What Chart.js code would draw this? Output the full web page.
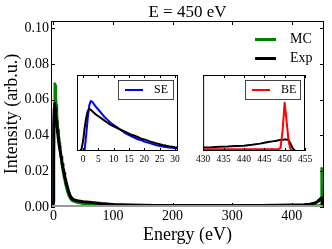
<!DOCTYPE html>
<html>
<head>
<meta charset="utf-8">
<script src="https://cdn.jsdelivr.net/npm/chart.js@4.4.1/dist/chart.umd.min.js"></script>
<style>
  html, body { margin: 0; padding: 0; background: #fff; }
  #wrap { position: relative; width: 332px; height: 249px; }
  canvas { position: absolute; }
</style>
</head>
<body>
<div id="wrap">
  <canvas id="main" width="332" height="249" style="left:0;top:0"></canvas>
  <canvas id="se" width="124" height="95" style="left:66px;top:70px"></canvas>
  <canvas id="be" width="124" height="95" style="left:193px;top:70px"></canvas>
</div>
<script>
// low energy part (secondary electrons)
const lowE   = [-2, -1, -0.5, 0, 0.5, 1, 1.5, 2, 2.5, 3, 4, 5, 6, 7, 8, 9, 10, 11, 12, 13, 14, 15, 16, 17, 18, 19, 20, 22, 24, 26, 28, 30, 31];
const lowMC  = [0, 0, 0, 0, 0.002, 0.022, 0.045, 0.063, 0.069, 0.068, 0.062, 0.057, 0.052, 0.047, 0.043, 0.039, 0.036, 0.033, 0.030, 0.027, 0.024, 0.022, 0.020, 0.018, 0.016, 0.015, 0.013, 0.0105, 0.008, 0.0062, 0.0049, 0.004, 0.0036];
const lowExp = [0, 0, 0.003, 0.014, 0.032, 0.046, 0.055, 0.058, 0.057, 0.055, 0.051, 0.048, 0.045, 0.042, 0.039, 0.036, 0.034, 0.032, 0.030, 0.028, 0.026, 0.024, 0.022, 0.021, 0.019, 0.017, 0.016, 0.013, 0.0105, 0.0082, 0.0065, 0.0052, 0.0047];

// middle part
const midE   = [35, 40, 50, 60, 80, 100, 130, 170, 200, 250, 300, 350, 400, 420];
const midMC  = [0.003, 0.0025, 0.0018, 0.0014, 0.001, 0.0008, 0.0006, 0.0005, 0.0005, 0.0005, 0.0005, 0.0005, 0.0005, 0.0005];
const midExp = [0.004, 0.0035, 0.003, 0.0026, 0.0019, 0.0014, 0.0011, 0.0009, 0.0008, 0.0008, 0.0008, 0.0009, 0.0011, 0.0013];

// high energy part (backscattered electrons)
const highE   = [430, 432, 434, 436, 438, 440, 442, 444, 445, 446, 447, 448, 448.5, 449, 449.5, 450, 450.5, 451, 451.5, 452, 452.5, 453, 455];
const highMC  = [0.0008, 0.0008, 0.0008, 0.0008, 0.0008, 0.0008, 0.0008, 0.0008, 0.0008, 0.0008, 0.0008, 0.0008, 0.0008, 0.0015, 0.009, 0.0216, 0.013, 0.004, 0.0006, 0, 0, 0, 0];
const highExp = [0.0016, 0.0017, 0.0019, 0.002, 0.0022, 0.0024, 0.0028, 0.0033, 0.0037, 0.004, 0.0043, 0.0046, 0.0048, 0.0049, 0.005, 0.0051, 0.0052, 0.0048, 0.003, 0.0012, 0.0002, 0, 0];

const mainXTicks = [0, 100, 200, 300, 400];
const mainYTicks = [0, 0.02, 0.04, 0.06, 0.08, 0.10];
const seXTicks = [0, 5, 10, 15, 20, 25, 30];
const beXTicks = [430, 435, 440, 445, 450, 455];

const FONT = "'Liberation Serif', 'Times New Roman', serif";

function pts(xs, ys) {
  return xs.map((x, i) => ({ x: x, y: ys[i] }));
}

// frame + inward tick marks like matplotlib
const boxPlugin = {
  id: 'box',
  beforeDraw(chart, args, o) {
    if (!o.fill) return;
    const a = chart.chartArea;
    chart.ctx.save();
    chart.ctx.fillStyle = '#fff';
    chart.ctx.fillRect(a.left, a.top, a.width, a.height);
    chart.ctx.restore();
  },
  afterDraw(chart, args, o) {
    const { ctx, chartArea: a, scales } = chart;
    ctx.save();
    ctx.strokeStyle = '#000';
    ctx.lineWidth = 1;
    ctx.beginPath();
    scales.x.ticks.forEach(t => {
      const px = Math.round(scales.x.getPixelForValue(t.value)) + 0.5;
      ctx.moveTo(px, a.bottom); ctx.lineTo(px, a.bottom - o.tick);
      ctx.moveTo(px, a.top); ctx.lineTo(px, a.top + o.tick);
    });
    if (o.yTicks) {
      scales.y.ticks.forEach(t => {
        const py = Math.round(scales.y.getPixelForValue(t.value)) + 0.5;
        ctx.moveTo(a.left, py); ctx.lineTo(a.left + o.tick, py);
        ctx.moveTo(a.right, py); ctx.lineTo(a.right - o.tick, py);
      });
    }
    ctx.stroke();
    ctx.strokeRect(a.left + 0.5, a.top + 0.5, a.width - 1, a.height - 1);
    if (o.baseColor) {
      // light base line along y = 0
      ctx.strokeStyle = o.baseColor;
      ctx.lineWidth = 2;
      ctx.beginPath();
      ctx.moveTo(a.left + 1, a.bottom - 1);
      ctx.lineTo(a.right - 1, a.bottom - 1);
      ctx.stroke();
    }
    ctx.restore();
  }
};

// small legend with line samples
const lineLegend = {
  id: 'lineLegend',
  afterDraw(chart, args, o) {
    const { ctx, chartArea: a } = chart;
    const x0 = Math.round(a.right - o.right - o.boxW), y0 = Math.round(a.top + o.top);
    ctx.save();
    if (o.frame) {
      ctx.fillStyle = '#fff';
      ctx.fillRect(x0, y0, o.boxW, o.boxH);
      ctx.strokeStyle = o.frame;
      ctx.lineWidth = 1;
      ctx.strokeRect(x0 + 0.5, y0 + 0.5, o.boxW, o.boxH);
    }
    ctx.font = o.font;
    ctx.textBaseline = 'middle';
    o.labels.forEach((lab, i) => {
      const ds = chart.data.datasets.find(d => d.label === lab);
      const y = y0 + o.rowY + i * o.rowGap;
      ctx.strokeStyle = ds.borderColor;
      ctx.lineWidth = o.lineW;
      ctx.beginPath();
      ctx.moveTo(x0 + o.lineX0, y);
      ctx.lineTo(x0 + o.lineX1, y);
      ctx.stroke();
      ctx.fillStyle = '#000';
      ctx.fillText(lab, x0 + o.textX, y);
    });
    ctx.restore();
  }
};

function lineDs(label, data, color, width, order) {
  return {
    label: label, data: data, borderColor: color, backgroundColor: color,
    borderWidth: width, pointRadius: 0, tension: 0, fill: false, order: order,
    borderJoinStyle: 'round', borderCapStyle: 'round'
  };
}

// main chart
new Chart(document.getElementById('main'), {
  type: 'line',
  plugins: [boxPlugin, lineLegend],
  data: {
    datasets: [
      lineDs('MC', pts(lowE.concat(midE, highE), lowMC.concat(midMC, highMC)), '#008000', 2.5, 1),
      lineDs('Exp', pts(lowE.concat(midE, highE), lowExp.concat(midExp, highExp)), '#000000', 3, 0)
    ]
  },
  options: {
    responsive: false,
    animation: false,
    layout: { padding: { top: 0, right: 8, bottom: 0, left: 0 } },
    plugins: {
      legend: { display: false },
      tooltip: { enabled: false },
      title: {
        display: true, text: 'E = 450 eV', color: '#000', fullSize: false,
        font: { family: FONT, size: 17, weight: 'normal', lineHeight: 1 },
        padding: { top: 4, bottom: 0 }
      },
      box: { tick: 4, yTicks: true, baseColor: '#9a9a9a' },
      lineLegend: {
        labels: ['MC', 'Exp'], boxW: 69, boxH: 0, right: 0, top: 0,
        rowY: 18.5, rowGap: 19, lineX0: 0, lineX1: 21, textX: 35, lineW: 3,
        font: "14px " + FONT, frame: null
      }
    },
    scales: {
      x: {
        type: 'linear', min: -4, max: 454,
        afterBuildTicks: s => { s.ticks = mainXTicks.map(v => ({ value: v })); },
        afterFit: s => { s.height = 42; },
        grid: { display: false, drawTicks: false },
        border: { display: false },
        ticks: { color: '#000', padding: 1, maxRotation: 0, font: { family: FONT, size: 14 } },
        title: { display: true, text: 'Energy (eV)', color: '#000', font: { family: FONT, size: 18 }, padding: { top: 0, bottom: 3 } }
      },
      y: {
        min: 0, max: 0.104,
        afterBuildTicks: s => { s.ticks = mainYTicks.map(v => ({ value: v })); },
        afterFit: s => { s.width = 51; },
        grid: { display: false, drawTicks: false },
        border: { display: false },
        ticks: { color: '#000', padding: 2, font: { family: FONT, size: 14 }, callback: v => v.toFixed(2) },
        title: { display: true, text: 'Intensity (arb.u.)', color: '#000', font: { family: FONT, size: 18 }, padding: { top: 1, bottom: 0 } }
      }
    }
  }
});

function inset(id, datasets, xmin, xmax, ymax, tickVals, legendLabel, pad) {
  return new Chart(document.getElementById(id), {
    type: 'line',
    plugins: [boxPlugin, lineLegend],
    data: { datasets: datasets },
    options: {
      responsive: false,
      animation: false,
      layout: { padding: pad },
      plugins: {
        legend: { display: false },
        tooltip: { enabled: false },
        box: { tick: 3, yTicks: false, fill: true },
        lineLegend: {
          labels: [legendLabel], boxW: 55, boxH: 19, right: 5, top: 5,
          rowY: 10, rowGap: 0, lineX0: 7, lineX1: 25, textX: 36, lineW: 2,
          font: "12px " + FONT, frame: '#444'
        }
      },
      scales: {
        x: {
          type: 'linear', min: xmin, max: xmax,
          afterBuildTicks: s => { s.ticks = tickVals.map(v => ({ value: v })); },
          afterFit: s => { s.height = 14; },
          grid: { display: false, drawTicks: false },
          border: { display: false },
          ticks: { color: '#000', padding: 3, maxRotation: 0, font: { family: FONT, size: 9.5 } }
        },
        y: { display: false, min: 0, max: ymax }
      }
    }
  });
}

inset('se', [
  lineDs('SE', pts(lowE, lowMC), '#0000ff', 2, 1),
  lineDs('Exp', pts(lowE, lowExp), '#000000', 2, 0)
], -2, 31, 0.105, seXTicks, 'SE', { left: 11, top: 5, right: 12, bottom: 0 });

inset('be', [
  lineDs('BE', pts(highE, highMC), '#ff0000', 2, 0),
  lineDs('Exp', pts(highE, highExp), '#000000', 2, 1)
], 430, 455, 0.034, beXTicks, 'BE', { left: 10, top: 5, right: 12, bottom: 0 });
</script>
</body>
</html>
